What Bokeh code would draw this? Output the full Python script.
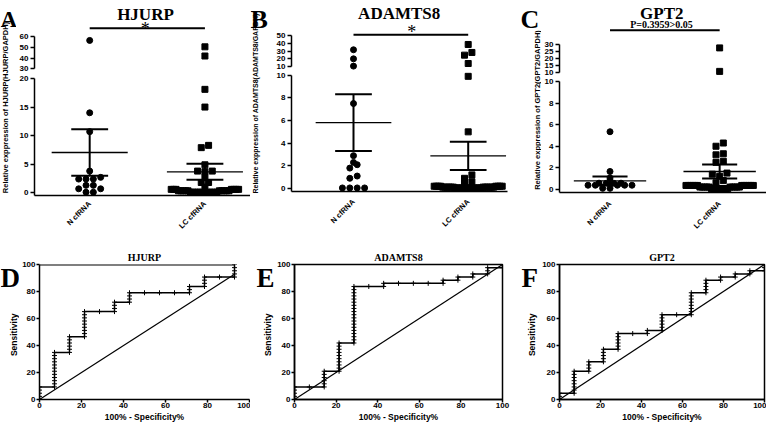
import math
from bokeh.plotting import figure
from bokeh.models import Range1d, LinearAxis, FixedTicker, Label, AllLabels, Title
from bokeh.layouts import column, row
from bokeh.embed import file_html
from bokeh.resources import INLINE

SANS = "Liberation Sans"
SERIF = "Liberation Serif"

# ---------------- data ----------------
groups = ["N cfRNA", "LC cfRNA"]
genes = ["HJURP", "ADAMTS8", "GPT2"]
letters_top = ["A", "B", "C"]
letters_bottom = ["D", "E", "F"]
y_titles = ["Relative exppression of HJURP(HJURP/GAPDH)",
            "Relative exppression of ADAMTS8(ADAMTS8/GAPDH)",
            "Relative exppression of GPT2(GPT2/GAPDH)"]
sig_texts = ["*", "*", "P=0.3959>0.05"]
roc_x_title = "100% - Specificity%"
roc_y_title = "Sensitivity"

hjurp_n = [56.6, 14.0, 10.7, 3.8, 2.7, 2.4, 2.4, 2.4, 1.3, 1.3, 0.7, 0.7, 0.1, 0.1]
hjurp_lc = [50.6, 42.0, 18.1, 15.0, 8.3, 7.9, 4.9, 3.8, 3.8, 3.7, 2.7, 1.8, 1.8, 1.0,
            0.6, 0.6, 0.6, 0.6, 0.6, 0.6, 0.6,
            0.35, 0.35, 0.35, 0.35, 0.35, 0.35, 0.35, 0.35, 0.35, 0.35,
            0.1, 0.1, 0.1, 0.1, 0.1, 0.1, 0.1, 0.1, 0.1, 0.1, 0.1, 0.1]
hjurp_mean = [7.05, 3.67]
hjurp_sem = [4.05, 1.40]
hjurp_lower_ticks = [0, 5, 10, 15, 20]
hjurp_upper_ticks = [30, 40, 50, 60]

adamts8_n = [31.8, 20.0, 10.5, 7.5, 2.9, 2.3, 2.1, 1.8, 1.1, 0.9, 0.05, 0.05, 0.05, 0.05]
adamts8_lc = [38.7, 28.3, 24.8, 13.9, 9.9, 5.0, 1.2, 0.9, 0.6, 0.5,
              0.2, 0.2, 0.2, 0.2, 0.2, 0.2, 0.2, 0.2,
              0.12, 0.12, 0.12, 0.12, 0.12, 0.12, 0.12, 0.12, 0.12, 0.12, 0.12, 0.12,
              0.05, 0.05, 0.05, 0.05, 0.05, 0.05, 0.05, 0.05, 0.05, 0.05, 0.05, 0.05, 0.05]
adamts8_mean = [5.82, 2.88]
adamts8_sem = [2.50, 1.24]
adamts8_lower_ticks = [0, 2, 4, 6, 8, 10]
adamts8_upper_ticks = [10, 20, 30, 40, 50]

gpt2_n = [5.35, 1.65, 1.05, 0.56, 0.56, 0.56, 0.56, 0.37, 0.37, 0.37, 0.37, 0.37, 0.08, 0.08]
gpt2_lc = [27.6, 11.0, 4.3, 4.0, 3.3, 3.2, 2.6, 2.5, 1.5, 1.4, 1.2, 0.8, 0.6,
           0.35, 0.35, 0.35, 0.35, 0.35, 0.35, 0.35, 0.35, 0.35, 0.35, 0.35, 0.35,
           0.2, 0.2, 0.2, 0.2, 0.2, 0.2, 0.2, 0.2, 0.2, 0.2,
           0.05, 0.05, 0.05, 0.05, 0.05, 0.05, 0.05, 0.05]
gpt2_mean = [0.78, 1.65]
gpt2_sem = [0.40, 0.65]
gpt2_lower_ticks = [0, 2, 4, 6, 8, 10]
gpt2_upper_ticks = [10, 15, 20, 25, 30]

# ROC curves: corner points in counts (14 controls, 43 cases)
n_control = 14
n_case = 43
roc_hjurp_fp = [0, 0, 1, 1, 2, 2, 3, 3, 5, 5, 6, 6, 10, 10, 11, 11, 13, 13]
roc_hjurp_tp = [0, 4, 4, 15, 15, 20, 20, 28, 28, 31, 31, 34, 34, 36, 36, 39, 39, 43]
roc_adamts8_fp = [0, 0, 2, 2, 3, 3, 4, 4, 6, 6, 10, 10, 11, 11, 12, 12, 13, 13, 14, 14]
roc_adamts8_tp = [0, 4, 4, 9, 9, 18, 18, 36, 36, 37, 37, 38, 38, 39, 39, 40, 40, 42, 42, 43]
roc_gpt2_fp = [0, 0, 1, 1, 2, 2, 3, 3, 4, 4, 6, 6, 7, 7, 9, 9, 10, 10, 11, 11, 12, 12, 13, 13, 14, 14]
roc_gpt2_tp = [0, 2, 2, 9, 9, 12, 12, 16, 16, 21, 21, 22, 22, 27, 27, 34, 34, 38, 38, 39, 39, 40, 40, 41, 41, 43]
roc_ticks = [0, 20, 40, 60, 80, 100]

# ---------------- layout (pixels) ----------------
TOP_H = 232
BOT_H = 192

top_cfg = [
    dict(side=16, main=234, bl=16, br=0, cN=71.7, cLC=188.0,
         hu=73, up_bot=68.3, up_top=36.3,
         hl=124, zero=119.3, lo_top=5.0, fb=122,
         title_x=128.0, title_base=13.7, bar=27.7, sig_x=127.7, sig_base=28.6,
         sig_size="18px", sig_style="normal", xlab_y=5,
         letter_x=0, letter_size="23px", ylab_x=4.5, ylab_y=107, ylab_size="7.5px"),
    dict(side=18, main=243, bl=23, br=4, cN=85.0, cLC=199.7,
         hu=70, up_bot=66.0, up_top=35.3,
         hl=123, zero=118.0, lo_top=4.7, fb=121,
         title_x=130.7, title_base=12.5, bar=34.3, sig_x=143.3, sig_base=31.6,
         sig_size="18px", sig_style="normal", xlab_y=7,
         letter_x=0, letter_size="26px", ylab_x=4.5, ylab_y=103, ylab_size="7px"),
    dict(side=30, main=225, bl=16, br=0, cN=67.0, cLC=177.7,
         hu=77, up_bot=72.3, up_top=44.0,
         hl=117, zero=111.7, lo_top=4.3, fb=115,
         title_x=119.3, title_base=13.0, bar=29.7, sig_x=119.0, sig_base=24.3,
         sig_size="10px", sig_style="bold", xlab_y=8,
         letter_x=9, letter_size="26px", ylab_x=25.5, ylab_y=109.5, ylab_size="7.5px"),
]
bot_cfg = [
    dict(side=19, main=231, bl=18, br=1, letter_x=0, ylab_x=13.7, boxed=False),
    dict(side=24, main=237, bl=18, br=9, letter_x=6, ylab_x=17.0, boxed=True),
    dict(side=28, main=227, bl=18, br=2, letter_x=10, ylab_x=20.0, boxed=True),
]
ROC_FT, ROC_FB = 32, 168


def base_fig(w, h, xr, yr, bl, br, bt, bb):
    p = figure(width=w, height=h, x_range=xr, y_range=yr, title=None,
               output_backend="svg", toolbar_location=None,
               x_axis_location=None, y_axis_location=None,
               min_border_left=bl, min_border_right=br,
               min_border_top=bt, min_border_bottom=bb)
    p.outline_line_color = None
    p.background_fill_color = "white"
    p.border_fill_color = "white"
    p.xgrid.visible = False
    p.ygrid.visible = False
    return p


def style_axis(ax, label_size, tick_out=4):
    ax.axis_line_color = "black"
    ax.axis_line_width = 1.5
    ax.major_tick_line_color = "black"
    ax.major_tick_line_width = 1.5
    ax.major_tick_out = tick_out
    ax.major_tick_in = 0
    ax.minor_tick_out = 0
    ax.minor_tick_in = 0
    ax.minor_tick_line_color = None
    ax.major_label_text_font = SANS
    ax.major_label_text_font_style = "bold"
    ax.major_label_text_font_size = label_size
    ax.major_label_text_color = "black"
    ax.axis_label_text_font = SANS
    ax.axis_label_text_font_style = "bold"
    ax.axis_label_text_color = "black"
    ax.major_label_policy = AllLabels()


def swarm_offsets(vals, ppu, bin_px=4.0, step_px=7.4, maxhalf_px=34.0):
    order = sorted(range(len(vals)), key=lambda i: vals[i])
    rows = []
    for i in order:
        if rows and (vals[i] - vals[rows[-1][0]]) * ppu < bin_px:
            rows[-1].append(i)
        else:
            rows.append([i])
    offs = [0.0] * len(vals)
    for r in rows:
        k = len(r)
        step = step_px if k == 1 else min(step_px, 2 * maxhalf_px / (k - 1))
        mid = (k - 1) / 2
        slots = sorted(range(k), key=lambda j: (abs(j - mid), j))
        for idx, s in zip(r, slots):
            offs[idx] = (s - mid) * step
    return offs


def px2v(px, r, p0, p1):
    return r.start + (px - p0) / (p1 - p0) * (r.end - r.start)


def side_fig(w, h, letter, letter_x, letter_base, letter_size, ytext, ylab_x, ylab_y, ylab_size):
    # a text-only strip; its ranges are plain pixel positions (y grows downward)
    p = base_fig(w, h, Range1d(0, w), Range1d(h, 0), 0, 0, 0, 0)
    p.add_layout(Label(x=letter_x, y=letter_base, text=letter,
                       text_font=SERIF, text_font_style="bold", text_font_size=letter_size,
                       text_align="left", text_baseline="alphabetic", text_color="black"))
    p.add_layout(Label(x=ylab_x, y=ylab_y, text=ytext, angle=math.pi / 2,
                       text_font=SANS, text_font_style="bold", text_font_size=ylab_size,
                       text_align="center", text_baseline="middle", text_color="black"))
    return p


def scatter_panel(i, n_vals, lc_vals, means, sems, lo_ticks, up_ticks):
    c = top_cfg[i]
    W = c["main"]
    bl, br = c["bl"], c["br"]
    fl, fr = bl, W - br
    lo_max = lo_ticks[-1]
    up_min, up_max = up_ticks[0], up_ticks[-1]

    ppx = c["cLC"] - c["cN"]
    xr = Range1d(1 - (c["cN"] - fl) / ppx, 2 + (fr - c["cLC"]) / ppx)

    ppu_up = (c["up_bot"] - c["up_top"]) / (up_max - up_min)
    hu = c["hu"]
    y_up = Range1d(up_min - (hu - c["up_bot"]) / ppu_up, up_min + c["up_bot"] / ppu_up)

    ppu_lo = (c["zero"] - c["lo_top"]) / lo_max
    hl, fb = c["hl"], c["fb"]
    y_lo = Range1d(-(fb - c["zero"]) / ppu_lo, c["zero"] / ppu_lo)

    hs = TOP_H - hu - hl

    # ---- upper (broken) segment ----
    pu = base_fig(W, hu, xr, y_up, bl, br, 0, 0)
    ax_up = LinearAxis(ticker=FixedTicker(ticks=up_ticks), bounds=(up_min, up_max))
    style_axis(ax_up, "8px")
    ax_up.major_label_standoff = 2
    pu.add_layout(ax_up, "left")

    # ---- lower segment ----
    pl = base_fig(W, hl, xr, y_lo, bl, br, 0, hl - fb)
    ax_lo = LinearAxis(ticker=FixedTicker(ticks=lo_ticks), bounds=(y_lo.start, lo_max))
    style_axis(ax_lo, "8px")
    ax_lo.major_label_standoff = 2
    pl.add_layout(ax_lo, "left")
    ax_x = LinearAxis(ticker=FixedTicker(ticks=[]))
    style_axis(ax_x, "8px", tick_out=0)
    pl.add_layout(ax_x, "below")

    # ---- strip with the slanted group names, on the same x scale ----
    ps = base_fig(W, hs, xr, Range1d(hs, 0), bl, br, 0, 0)
    for gx, gname in zip([1, 2], groups):
        ps.add_layout(Label(x=gx, y=c["xlab_y"], text=gname, angle=math.pi / 4,
                            text_font=SANS, text_font_style="bold", text_font_size="7.5px",
                            text_align="right", text_baseline="middle", text_color="black"))

    for gi, (vals, marker) in enumerate([(n_vals, "circle"), (lc_vals, "square")]):
        center = gi + 1
        lows = [v for v in vals if v <= lo_max]
        ups = [v for v in vals if v > lo_max]
        o_lo = swarm_offsets(lows, ppu_lo)
        pl.scatter(x=[center + o / ppx for o in o_lo], y=lows, marker=marker, size=6,
                   color="black")
        if ups:
            o_up = swarm_offsets(ups, ppu_up)
            pu.scatter(x=[center + o / ppx for o in o_up], y=ups, marker=marker, size=6,
                       color="black")

    cx = [1, 2]
    tops = [m + s for m, s in zip(means, sems)]
    bots = [m - s for m, s in zip(means, sems)]
    pl.segment(x0=[x - 0.33 for x in cx], x1=[x + 0.33 for x in cx], y0=means, y1=means,
               line_color="black", line_width=1.3)
    pl.segment(x0=[x - 0.16 for x in cx], x1=[x + 0.16 for x in cx], y0=tops, y1=tops,
               line_color="black", line_width=2)
    pl.segment(x0=[x - 0.16 for x in cx], x1=[x + 0.16 for x in cx], y0=bots, y1=bots,
               line_color="black", line_width=2)
    pl.segment(x0=cx, x1=cx, y0=bots, y1=tops, line_color="black", line_width=2)

    def X(px):
        return px2v(px, xr, fl, fr)

    def Y(py):
        return px2v(py, y_up, hu, 0)

    yb = Y(c["bar"])
    pu.segment(x0=[1], x1=[2], y0=[yb], y1=[yb], line_color="black", line_width=2)
    pu.add_layout(Label(x=X(c["sig_x"]), y=Y(c["sig_base"]), text=sig_texts[i],
                        text_font=SERIF, text_font_style=c["sig_style"], text_font_size=c["sig_size"],
                        text_align="center", text_baseline="alphabetic", text_color="black"))
    pu.add_layout(Label(x=X(c["title_x"]), y=Y(c["title_base"]), text=genes[i],
                        text_font=SERIF, text_font_style="bold", text_font_size="17px",
                        text_align="center", text_baseline="alphabetic", text_color="black"))

    sf = side_fig(c["side"], TOP_H, letters_top[i], c["letter_x"], 19, c["letter_size"],
                  y_titles[i], c["ylab_x"], c["ylab_y"], c["ylab_size"])
    return row(sf, column(pu, pl, ps))


def roc_panel(i, fp, tp):
    c = bot_cfg[i]
    W, H = c["main"], BOT_H
    p = base_fig(W, H, Range1d(0, 100), Range1d(0, 100), c["bl"], c["br"], ROC_FT, H - ROC_FB)
    if c["boxed"]:
        p.outline_line_color = "black"
        p.outline_line_width = 1.5

    ax_x = LinearAxis(ticker=FixedTicker(ticks=roc_ticks), axis_label=roc_x_title)
    style_axis(ax_x, "8px", tick_out=3)
    ax_x.major_label_standoff = 0
    ax_x.axis_label_standoff = 1
    ax_x.axis_label_text_font_size = "8.5px"
    p.add_layout(ax_x, "below")
    ax_y = LinearAxis(ticker=FixedTicker(ticks=roc_ticks))
    style_axis(ax_y, "8px", tick_out=3)
    ax_y.major_label_standoff = 1
    p.add_layout(ax_y, "left")

    p.add_layout(Title(text=genes[i], align="center", standoff=4,
                       text_font=SERIF, text_font_style="bold", text_font_size="10px",
                       text_color="black"), "above")

    # ROC points: every case / control is one step from corner to corner
    pts = [(fp[0], tp[0])]
    x0, y0 = fp[0], tp[0]
    for x1, y1 in zip(fp[1:], tp[1:]):
        while x0 < x1:
            x0 += 1
            pts.append((x0, y0))
        while y0 < y1:
            y0 += 1
            pts.append((x0, y0))
    fpr = [100.0 * a / n_control for a, _ in pts]
    tpr = [100.0 * b / n_case for _, b in pts]
    end = max(fpr)
    p.line([0, end], [0, end], line_color="black", line_width=1.2)
    if not c["boxed"]:
        p.line([0, end], [100, 100], line_color="black", line_width=2)
    p.line(fpr, tpr, line_color="black", line_width=1.5)
    p.scatter(fpr, tpr, marker="cross", size=5, line_color="black", line_width=1)

    sf = side_fig(c["side"], H, letters_bottom[i], c["letter_x"], 19, "27px",
                  roc_y_title, c["ylab_x"], (ROC_FT + ROC_FB) / 2, "8.5px")
    return row(sf, p)


pA = scatter_panel(0, hjurp_n, hjurp_lc, hjurp_mean, hjurp_sem, hjurp_lower_ticks, hjurp_upper_ticks)
pB = scatter_panel(1, adamts8_n, adamts8_lc, adamts8_mean, adamts8_sem, adamts8_lower_ticks, adamts8_upper_ticks)
pC = scatter_panel(2, gpt2_n, gpt2_lc, gpt2_mean, gpt2_sem, gpt2_lower_ticks, gpt2_upper_ticks)
pD = roc_panel(0, roc_hjurp_fp, roc_hjurp_tp)
pE = roc_panel(1, roc_adamts8_fp, roc_adamts8_tp)
pF = roc_panel(2, roc_gpt2_fp, roc_gpt2_tp)

layout = column(row(pA, pB, pC), row(pD, pE, pF))
open("out.html", "w").write(file_html(layout, INLINE))
